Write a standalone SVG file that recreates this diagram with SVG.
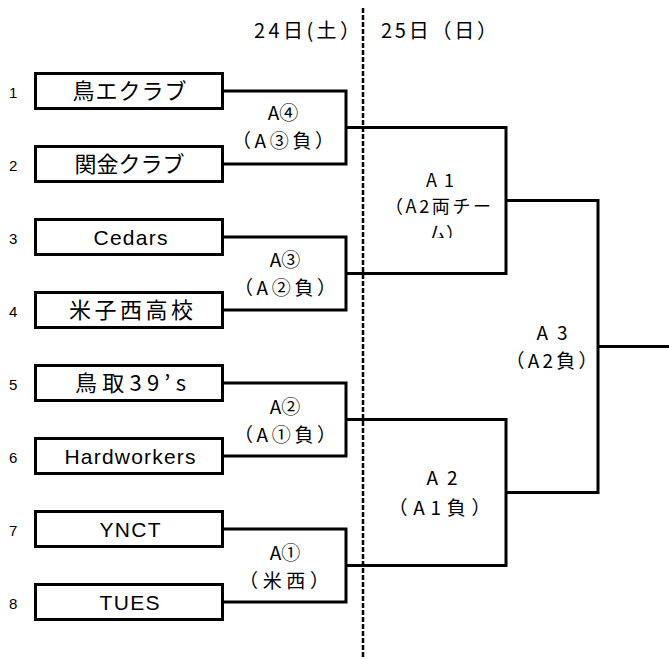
<svg xmlns="http://www.w3.org/2000/svg" width="669" height="659" viewBox="0 0 669 659">
<style>
.box{fill:#fff;stroke:#000;stroke-width:3}
.num{font-family:"Liberation Sans",Arial,sans-serif;font-size:15px;fill:#000}
.team{font-family:"Liberation Sans","Noto Sans CJK JP",sans-serif;font-size:21px;fill:#000;text-anchor:middle}
.jp{font-family:"Noto Sans CJK JP",sans-serif;font-size:22px;fill:#000;text-anchor:middle}
.lbl{font-family:"Noto Sans CJK JP",sans-serif;font-size:19px;fill:#000}
.lblA1{font-family:"Noto Sans CJK JP",sans-serif;font-size:18px;fill:#000}
.hdr{font-family:"Noto Sans CJK JP",sans-serif;font-size:20px;fill:#000}
.mid{text-anchor:middle}
.ln{fill:none;stroke:#000;stroke-width:3}
.dash{fill:none;stroke:#000;stroke-width:2.5;stroke-dasharray:5 2}
</style>
<defs>
<clipPath id="clipA1"><rect x="346" y="160" width="160" height="78"/></clipPath>
</defs>
<rect width="669" height="659" fill="#fff"/>

<g id="headers">
<text class="hdr" x="254" y="38" textLength="106" lengthAdjust="spacing">24日(土）</text>
<text class="hdr" x="381" y="38" textLength="116" lengthAdjust="spacing">25日（日）</text>
</g>

<g id="connectors">
<path class="dash" d="M363,8 V659"/>
<path class="ln" d="M223,91 H346 V164 H223"/>
<path class="ln" d="M223,237 H346 V310 H223"/>
<path class="ln" d="M223,383 H346 V456 H223"/>
<path class="ln" d="M223,529 H346 V602 H223"/>
<path class="ln" d="M346,127.5 H506 V273.5 H346"/>
<path class="ln" d="M346,419.5 H506 V565.5 H346"/>
<path class="ln" d="M506,200.5 H598 V492.5 H506"/>
<path class="ln" d="M598,346.5 H669"/>
</g>

<g id="team1"><text class="num" x="9" y="98">1</text><rect class="box" x="35.5" y="73.5" width="187" height="35"/><text class="jp" x="129.5" y="99" textLength="114" lengthAdjust="spacing">鳥エクラブ</text></g>
<g id="team2"><text class="num" x="9" y="171">2</text><rect class="box" x="35.5" y="146.5" width="187" height="35"/><text class="jp" x="129.5" y="172" textLength="110" lengthAdjust="spacing">関金クラブ</text></g>
<g id="team3"><text class="num" x="9" y="244">3</text><rect class="box" x="35.5" y="219.5" width="187" height="35"/><text class="team" x="130.5" y="244.5" textLength="74" lengthAdjust="spacing">Cedars</text></g>
<g id="team4"><text class="num" x="9" y="317">4</text><rect class="box" x="35.5" y="292.5" width="187" height="35"/><text class="jp" x="131" y="318" textLength="124" lengthAdjust="spacing">米子西高校</text></g>
<g id="team5"><text class="num" x="9" y="390">5</text><rect class="box" x="35.5" y="365.5" width="187" height="35"/><text class="jp" x="130.5" y="391" textLength="111" lengthAdjust="spacing">鳥取39’s</text></g>
<g id="team6"><text class="num" x="9" y="463">6</text><rect class="box" x="35.5" y="438.5" width="187" height="35"/><text class="team" x="130" y="463.5" textLength="131" lengthAdjust="spacing">Hardworkers</text></g>
<g id="team7"><text class="num" x="9" y="536">7</text><rect class="box" x="35.5" y="511.5" width="187" height="35"/><text class="team" x="130" y="536.5" textLength="61" lengthAdjust="spacing">YNCT</text></g>
<g id="team8"><text class="num" x="9" y="609">8</text><rect class="box" x="35.5" y="584.5" width="187" height="35"/><text class="team" x="129.5" y="609.5" textLength="60" lengthAdjust="spacing">TUES</text></g>

<g id="gameA4"><text class="lbl mid"><tspan x="283" y="120">A④</tspan><tspan x="283" y="148" textLength="102" lengthAdjust="spacing">（A③負）</tspan></text></g>
<g id="gameA3c"><text class="lbl mid"><tspan x="285" y="267">A③</tspan><tspan x="285" y="295" textLength="102" lengthAdjust="spacing">（A②負）</tspan></text></g>
<g id="gameA2c"><text class="lbl mid"><tspan x="285" y="414">A②</tspan><tspan x="285" y="442" textLength="102" lengthAdjust="spacing">（A①負）</tspan></text></g>
<g id="gameA1c"><text class="lbl mid"><tspan x="285" y="560">A①</tspan><tspan x="284" y="588" textLength="90" lengthAdjust="spacing">（米西）</tspan></text></g>

<g id="gameA1" clip-path="url(#clipA1)">
<text class="lblA1"><tspan x="426" y="187" textLength="28" lengthAdjust="spacing">A1</tspan><tspan x="385" y="213" textLength="106" lengthAdjust="spacing">（A2両チー</tspan><tspan x="428" y="240">ム）</tspan></text>
</g>
<g id="gameA2"><text class="lbl mid"><tspan x="442" y="485" textLength="31" lengthAdjust="spacing">A2</tspan><tspan x="439.5" y="515" textLength="102" lengthAdjust="spacing">（A1負）</tspan></text></g>
<g id="gameA3"><text class="lbl mid"><tspan x="552" y="340" textLength="31" lengthAdjust="spacing">A3</tspan><tspan x="551.5" y="368" textLength="92" lengthAdjust="spacing">（A2負）</tspan></text></g>
</svg>
